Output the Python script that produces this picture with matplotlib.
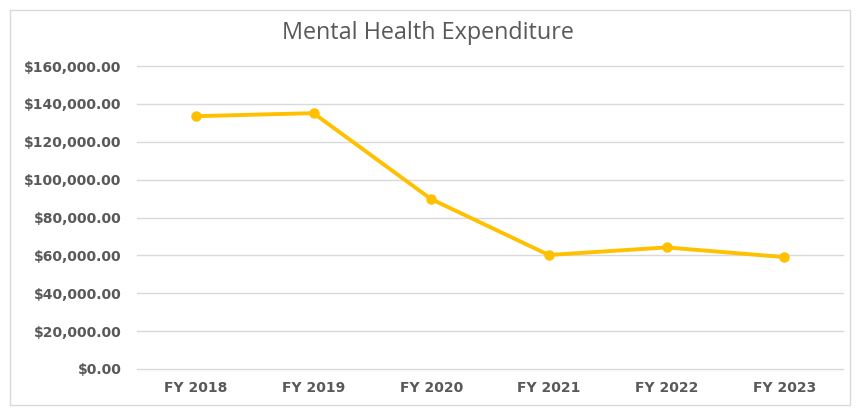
import matplotlib
matplotlib.use("Agg")
import matplotlib.pyplot as plt
from matplotlib.patches import Rectangle
from matplotlib.ticker import FuncFormatter, MultipleLocator

categories = ["FY 2018", "FY 2019", "FY 2020", "FY 2021", "FY 2022", "FY 2023"]
expenditure = [133500, 135100, 89700, 60200, 64200, 59100]

W, H = 856, 409
fig = plt.figure(figsize=(W / 100, H / 100), dpi=100)
fig.patch.set_facecolor("white")
fig.add_artist(Rectangle((10 / W, 1 - 405 / H), 840 / W, 395 / H, transform=fig.transFigure,
                         fill=False, edgecolor="#d9d9d9", linewidth=1.0))

ax = fig.add_axes([137 / W, 1 - 369 / H, (843 - 137) / W, (369 - 66) / H])
x = list(range(len(categories)))
ax.plot(x, expenditure, color="#FFC000", linewidth=2.8, marker="o", markersize=6.5, zorder=3)
ax.set_xlim(-0.5, len(categories) - 0.5)
ax.set_ylim(0, 160000)
ax.yaxis.set_major_locator(MultipleLocator(20000))
ax.yaxis.set_major_formatter(FuncFormatter(lambda v, p: f"${v:,.2f}"))
ax.set_xticks(x)
ax.set_xticklabels(categories)
ax.grid(axis="y", color="#d9d9d9", linewidth=1.0)
ax.set_axisbelow(True)
for gl in ax.get_ygridlines():
    gl.set_clip_on(False)
for s in ax.spines.values():
    s.set_visible(False)
ax.tick_params(length=0, labelsize=10, labelcolor="#595959")
for lab in ax.get_xticklabels() + ax.get_yticklabels():
    lab.set_fontfamily("DejaVu Sans")
    lab.set_fontweight("bold")
ax.tick_params(axis="y", pad=11)
ax.tick_params(axis="x", pad=9)

fig.text(0.5, 1 - 33 / H, "Mental Health Expenditure", ha="center", va="center",
         fontsize=16.8, color="#595959", fontfamily="Open Sans", fontweight="normal")

fig.savefig("out.png", dpi=100)
